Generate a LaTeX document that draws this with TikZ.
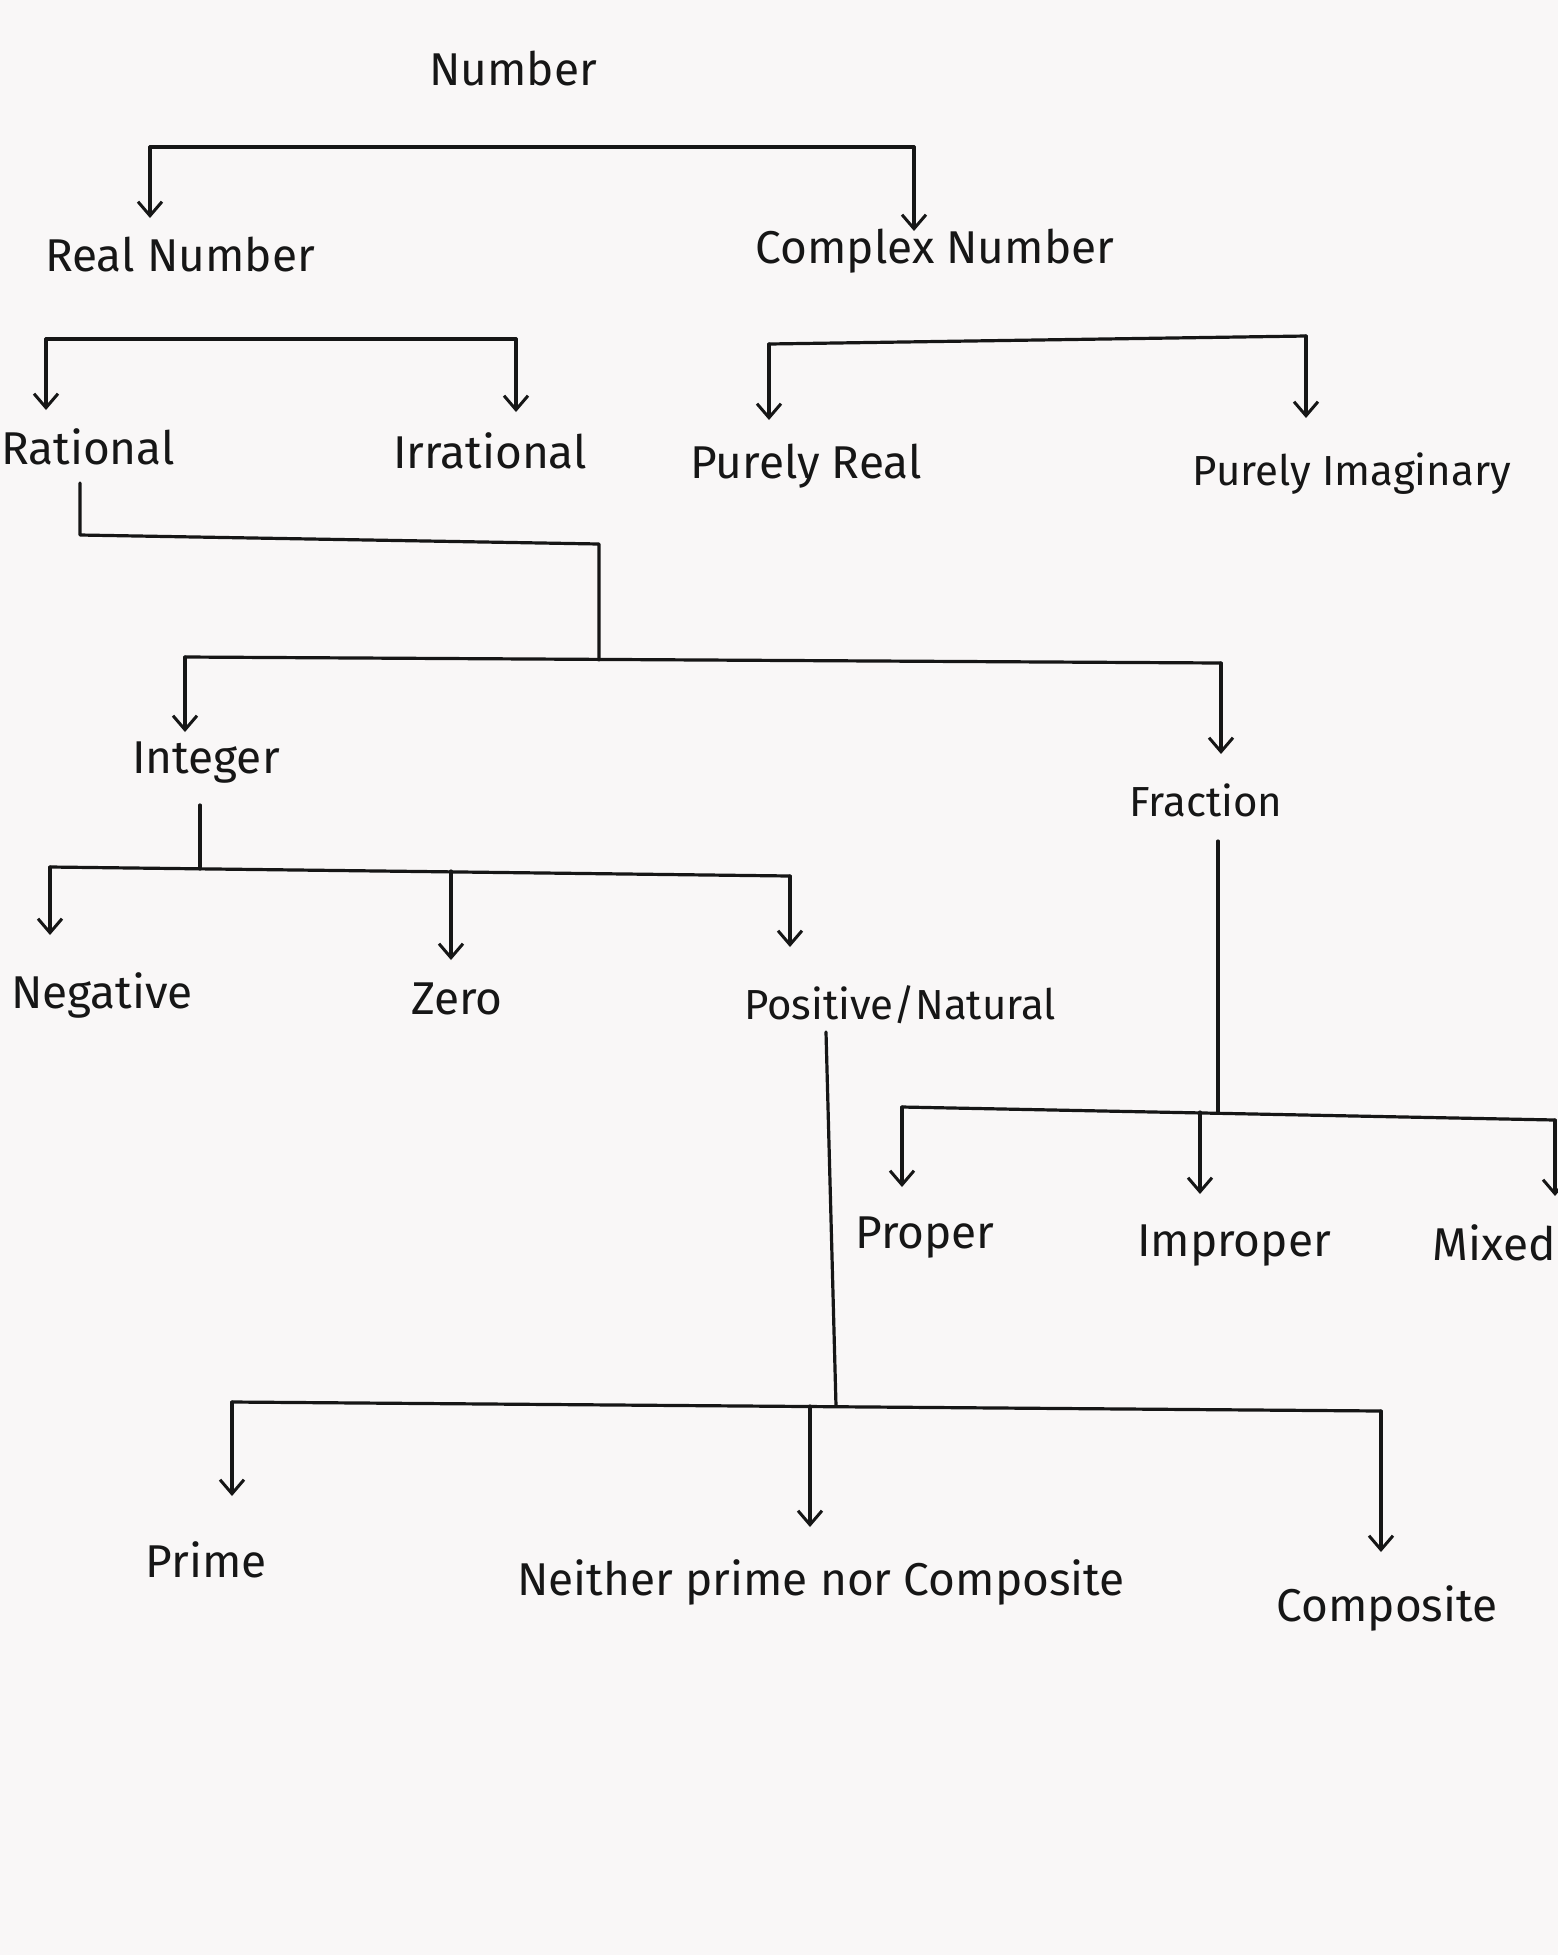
\documentclass[tikz,border=0pt]{standalone}
\usepackage{fontspec}
\setmainfont{Fira Sans}
\usetikzlibrary{arrows.meta}
\definecolor{ink}{HTML}{161616}
\definecolor{paper}{HTML}{F9F7F7}
\tikzset{
  lbl/.style={inner sep=0pt, text=ink, font=\fontsize{23}{27}\selectfont},
  lblsm/.style={lbl, font=\fontsize{21}{25}\selectfont},
  wire/.style={draw=ink, line width=1.6pt, line cap=round, line join=round},
  arr/.style={wire, -{Straight Barb[length=7pt,width=12pt,line width=1.5pt]}}
}
\begin{document}
\begin{tikzpicture}[x=0.5pt,y=-0.5pt]
\fill[paper] (0,0) rectangle (1558,1955);
\useasboundingbox (0,0) rectangle (1558,1955);
\clip (0,0) rectangle (1558,1955);

% ---- text nodes ----
\node[lbl] (num) at (513,69) {Number};
\node[lbl] (real) at (180,255) {Real Number};
\node[lbl] (cplx) at (935,251) {Complex Number};
\node[lbl] (rat) at (88,447) {Rational};
\node[lbl] (irr) at (490,451) {Irrational};
\node[lbl] (preal) at (806,466) {Purely Real};
\node[lblsm] (pimag) at (1352,474) {Purely Imaginary};
\node[lbl] (int) at (206,763) {Integer};
\node[lblsm] (frac) at (1206,800) {Fraction};
\node[lbl] (neg) at (102,995) {Negative};
\node[lbl] (zero) at (457,999) {Zero};
\node[lblsm] (pos) at (900,1005) {Positive/Natural};
\node[lbl] (prop) at (925,1238) {Proper};
\node[lbl] (impr) at (1234,1246) {Improper};
\node[lbl, anchor=east] (mix) at (1556,1243) {Mixed};
\node[lbl] (prime) at (206,1560) {Prime};
\node[lbl] (neither) at (821,1582) {Neither prime nor Composite};
\node[lbl] (comp) at (1387,1608) {Composite};

% ---- junction coordinates ----
\coordinate (a1) at (150,147);  \coordinate (a2) at (914,147);
\coordinate (t1) at (150,218);  \coordinate (t2) at (914,231);

\coordinate (b1) at (46,339);   \coordinate (b2) at (516,339);
\coordinate (tb1) at (46,410);  \coordinate (tb2) at (516,412);

\coordinate (c1) at (769,344);  \coordinate (c2) at (1306,336);
\coordinate (tc1) at (769,420); \coordinate (tc2) at (1306,418);

\coordinate (r0) at (80,483);   \coordinate (r1) at (80,535);
\coordinate (r2) at (599,544);  \coordinate (r3) at (599,660);

\coordinate (d1) at (185,657);  \coordinate (d2) at (1221,663);
\coordinate (td1) at (185,732); \coordinate (td2) at (1221,754);

\coordinate (i0) at (200,805);  \coordinate (i1) at (200,869);
\coordinate (e1) at (50,867);   \coordinate (e2) at (451,871); \coordinate (e3) at (790,876);
\coordinate (te1) at (50,935);  \coordinate (te2) at (451,960); \coordinate (te3) at (790,947);

\coordinate (f0) at (1218,841); \coordinate (f1) at (1218,1112);
\coordinate (g1) at (902,1107); \coordinate (g2) at (1200,1112); \coordinate (g3) at (1555,1120);
\coordinate (tg1) at (902,1187); \coordinate (tg2) at (1200,1194); \coordinate (tg3) at (1555,1196);

\coordinate (p0) at (826,1032); \coordinate (p1) at (836,1406);
\coordinate (h1) at (232,1402); \coordinate (h2) at (810,1406); \coordinate (h3) at (1381,1411);
\coordinate (th1) at (232,1496); \coordinate (th2) at (810,1527); \coordinate (th3) at (1381,1552);

% ---- connectors ----
\draw[wire] (a1) -- (a2);
\draw[arr] (a1) -- (t1);
\draw[arr] (a2) -- (t2);

\draw[wire] (b1) -- (b2);
\draw[arr] (b1) -- (tb1);
\draw[arr] (b2) -- (tb2);

\draw[wire] (c1) -- (c2);
\draw[arr] (c1) -- (tc1);
\draw[arr] (c2) -- (tc2);

\draw[wire] (r0) -- (r1) -- (r2) -- (r3);

\draw[wire] (d1) -- (d2);
\draw[arr] (d1) -- (td1);
\draw[arr] (d2) -- (td2);

\draw[wire] (i0) -- (i1);
\draw[wire] (e1) -- (e3);
\draw[arr] (e1) -- (te1);
\draw[arr] (e2) -- (te2);
\draw[arr] (e3) -- (te3);

\draw[wire] (f0) -- (f1);
\draw[wire] (g1) -- (g3);
\draw[arr] (g1) -- (tg1);
\draw[arr] (g2) -- (tg2);
\draw[arr] (g3) -- (tg3);

\draw[wire] (p0) -- (p1);
\draw[wire] (h1) -- (h3);
\draw[arr] (h1) -- (th1);
\draw[arr] (h2) -- (th2);
\draw[arr] (h3) -- (th3);
\end{tikzpicture}
\end{document}
